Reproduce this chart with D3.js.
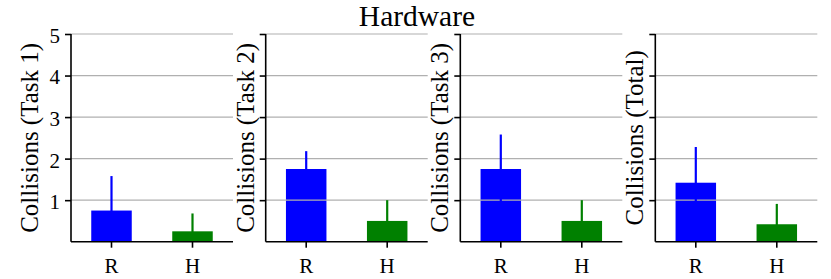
<!DOCTYPE html>
<html>
<head>
<meta charset="utf-8">
<script src="https://cdn.jsdelivr.net/npm/d3@7"></script>
<style>
  body { margin: 0; background: #fff; }
  .axis path, .axis line { stroke: #000; stroke-width: 1.6; }
  .grid line { stroke: #b0b0b0; stroke-width: 1.2; }
</style>
</head>
<body>
<div id="chart"></div>
<script>
// values
var categories = ["R", "H"];
var panelNames = ["Task 1", "Task 2", "Task 3", "Total"];
var meanR = [0.75, 1.75, 1.75, 1.42];
var meanH = [0.25, 0.50, 0.50, 0.42];
var errR = [0.83, 0.43, 0.83, 0.86];
var errH = [0.43, 0.50, 0.50, 0.49];
var yTicks = [1, 2, 3, 4, 5];
var colors = ["#0000ff", "#008000"];

var serif = "'Liberation Serif', 'DejaVu Serif', serif";
var width = 831, height = 279;
var axLeft = [71, 265.7, 460.3, 655.3];
var axWidth = 162, axTop = 34, axBottom = 241.7;

var svg = d3.select("#chart").append("svg")
    .attr("width", width)
    .attr("height", height);

svg.append("text")
    .attr("x", 417)
    .attr("y", 25.5)
    .attr("text-anchor", "middle")
    .style("font-family", serif)
    .style("font-size", "29.5px")
    .text("Hardware");

var xScale = d3.scaleBand()
    .domain(categories)
    .range([0, axWidth])
    .paddingInner(0.5)
    .paddingOuter(0.25);

var yScale = d3.scaleLinear()
    .domain([0, 5])
    .range([axBottom - axTop, 0]);

panelNames.forEach(function(name, p) {
    var g = svg.append("g")
        .attr("transform", "translate(" + axLeft[p] + "," + axTop + ")");

    var data = categories.map(function(c, i) {
        return {
            label: c,
            mean: i == 0 ? meanR[p] : meanH[p],
            err: i == 0 ? errR[p] : errH[p],
            color: colors[i]
        };
    });

    // bars
    g.selectAll(".bar").data(data).enter().append("rect")
        .attr("class", "bar")
        .attr("x", function(d) { return xScale(d.label); })
        .attr("width", xScale.bandwidth())
        .attr("y", function(d) { return yScale(d.mean); })
        .attr("height", function(d) { return yScale(0) - yScale(d.mean); })
        .attr("fill", function(d) { return d.color; });

    // grid sits above the bars
    g.append("g").attr("class", "grid")
        .selectAll("line").data(yTicks).enter().append("line")
        .attr("x1", 0)
        .attr("x2", axWidth)
        .attr("y1", function(d) { return yScale(d); })
        .attr("y2", function(d) { return yScale(d); });

    // error bars, same colour as the bar
    g.selectAll(".err").data(data).enter().append("line")
        .attr("class", "err")
        .attr("x1", function(d) { return xScale(d.label) + xScale.bandwidth() / 2; })
        .attr("x2", function(d) { return xScale(d.label) + xScale.bandwidth() / 2; })
        .attr("y1", function(d) { return yScale(Math.max(0, d.mean - d.err)); })
        .attr("y2", function(d) { return yScale(d.mean + d.err); })
        .attr("stroke", function(d) { return d.color; })
        .attr("stroke-width", 2.2);

    var yAxis = d3.axisLeft(yScale)
        .tickValues(yTicks)
        .tickSize(6)
        .tickSizeOuter(0)
        .tickPadding(5)
        .tickFormat(p > 0 ? "" : d3.format("d"));

    var ya = g.append("g").attr("class", "axis").call(yAxis);
    ya.selectAll("text")
        .style("font-family", serif)
        .style("font-size", "21px")
        .attr("dy", "0.4em");

    var xAxis = d3.axisBottom(xScale)
        .tickSize(6)
        .tickSizeOuter(0)
        .tickPadding(10);

    var xa = g.append("g").attr("class", "axis")
        .attr("transform", "translate(0," + yScale(0) + ")")
        .call(xAxis);
    xa.selectAll("text")
        .style("font-family", serif)
        .style("font-size", "21px")
        .attr("dy", "0.71em");
    xa.select(".domain").attr("d", "M0,0H" + axWidth);
    ya.select(".domain").attr("d", "M0," + yScale(0) + "V0");

    var labelOffset = p == 0 ? 32.7 : 12.2;
    g.append("text")
        .attr("transform", "translate(" + (-labelOffset) + "," + (yScale(0) / 2) + ") rotate(-90)")
        .attr("text-anchor", "middle")
        .style("font-family", serif)
        .style("font-size", "25px")
        .text("Collisions (" + name + ")");
});
</script>
</body>
</html>
